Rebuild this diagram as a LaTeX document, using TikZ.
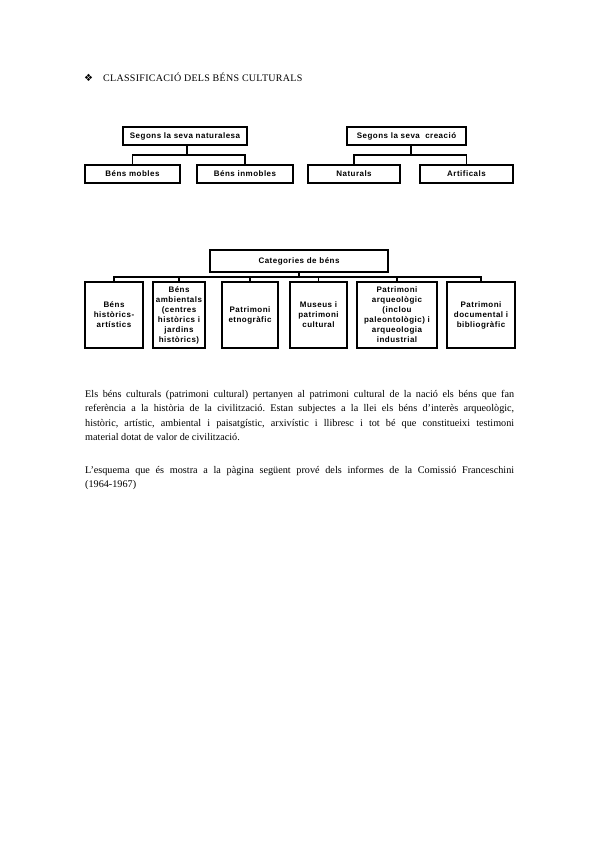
\documentclass[tikz,border=0pt]{standalone}
\usepackage{fontspec}
\setmainfont{Liberation Serif}
\newfontfamily\boxfont[LetterSpace=6]{Liberation Sans}
\newfontfamily\titlefont[LetterSpace=3]{Liberation Serif}
\newfontfamily\symfont{DejaVu Sans}
\usepackage{tikz}
\usetikzlibrary{positioning}
\frenchspacing
\tikzset{
    box/.style={draw, line width=1.5pt, inner sep=0pt, outer sep=0pt, align=center,
    font=\boxfont\bfseries\fontsize{8}{10}\selectfont},
    topbox/.style={box, minimum height=18pt},
    catbox/.style={box, minimum height=66pt},
    link/.style={line width=1.5pt},
    para/.style={text width=429pt, align=justify, inner sep=0pt, anchor=north west,
    font=\fontsize{10.2}{14.5}\selectfont},
}

\begin{document}
\begin{tikzpicture}[x=1pt, y=-1pt]
    \fill[white] (0,0) rectangle (599,848);
    \useasboundingbox (0,0) rectangle (599,848);
    % --- heading ---
    \node[anchor=base west, inner sep=0pt, font=\symfont\fontsize{10}{12}\selectfont] (mark) at (84,82) {❖};
    \node[anchor=base west, inner sep=0pt, font=\titlefont\fontsize{10}{12}\selectfont] (title) at (103,82) {CLASSIFICACIÓ DELS BÉNS CULTURALS};
    % --- segons la seva naturalesa ---
    \node[topbox, minimum width=124pt] (nat) at (185,136) {Segons la seva naturalesa};
    \node[topbox, minimum width=95pt] (mob) at (132.5,174) {Béns mobles};
    \node[topbox, minimum width=96pt, right=17pt of mob] (inm) {Béns inmobles};
    \coordinate (natbus) at (187,155);
    \draw[link] (natbus |- nat.south) -- (natbus);
    \draw[link] (mob.north) |- (natbus) -| (inm.north);
    % --- segons la seva creacio ---
    \node[topbox, minimum width=119pt] (cre) at (406.5,136) {Segons la seva\ \ creació};
    \node[topbox, minimum width=92pt] (natu) at (354,174) {Naturals};
    \node[topbox, minimum width=93pt, right=20pt of natu] (arti) {Artificals};
    \coordinate (crebus) at (411,155);
    \draw[link] (crebus |- cre.south) -- (crebus);
    \draw[link] (natu.north) |- (crebus) -| (arti.north);
    % --- categories de bens ---
    \node[box, minimum width=178pt, minimum height=22pt] (cat) at (299,261) {Categories de béns};
    \node[catbox, minimum width=58pt] (c1) at (114,315) {Béns\\històrics-\\artístics};
    \node[catbox, minimum width=52pt, right=10pt of c1] (c2) {Béns\\ambientals\\(centres\\històrics i\\jardins\\històrics)};
    \node[catbox, minimum width=56pt, right=17pt of c2] (c3) {Patrimoni\\etnogràfic};
    \node[catbox, minimum width=57pt, right=12pt of c3] (c4) {Museus i\\patrimoni\\cultural};
    \node[catbox, minimum width=80pt, right=10pt of c4] (c5) {Patrimoni\\arqueològic\\(inclou\\paleontològic) i\\arqueologia\\industrial};
    \node[catbox, minimum width=68pt, right=10pt of c5] (c6) {Patrimoni\\documental i\\bibliogràfic};
    \coordinate (catbus) at (299,277);
    \draw[link] (cat.south) -- (catbus);
    \draw[link] (c1.north) |- (catbus) -| (c6.north);
    \foreach \c in {c2,c3,c4,c5}
        \draw[link] (\c.north) -- (\c.north |- catbus);
    % --- text ---
    \node[para] (p1) at (85,390) {Els béns culturals (patrimoni cultural) pertanyen al patrimoni cultural de la nació els béns que fan\linebreak
    referència a la història de la civilització. Estan subjectes a la llei els béns d'interès arqueològic,\linebreak
    històric, artístic, ambiental i paisatgístic, arxivístic i llibresc i tot bé que constitueixi testimoni\linebreak
    material dotat de valor de civilització.};
    \node[para] (p2) at (85,466) {L'esquema que és mostra a la pàgina següent prové dels informes de la Comissió Franceschini\linebreak
    (1964-1967)};
\end{tikzpicture}
\end{document}
